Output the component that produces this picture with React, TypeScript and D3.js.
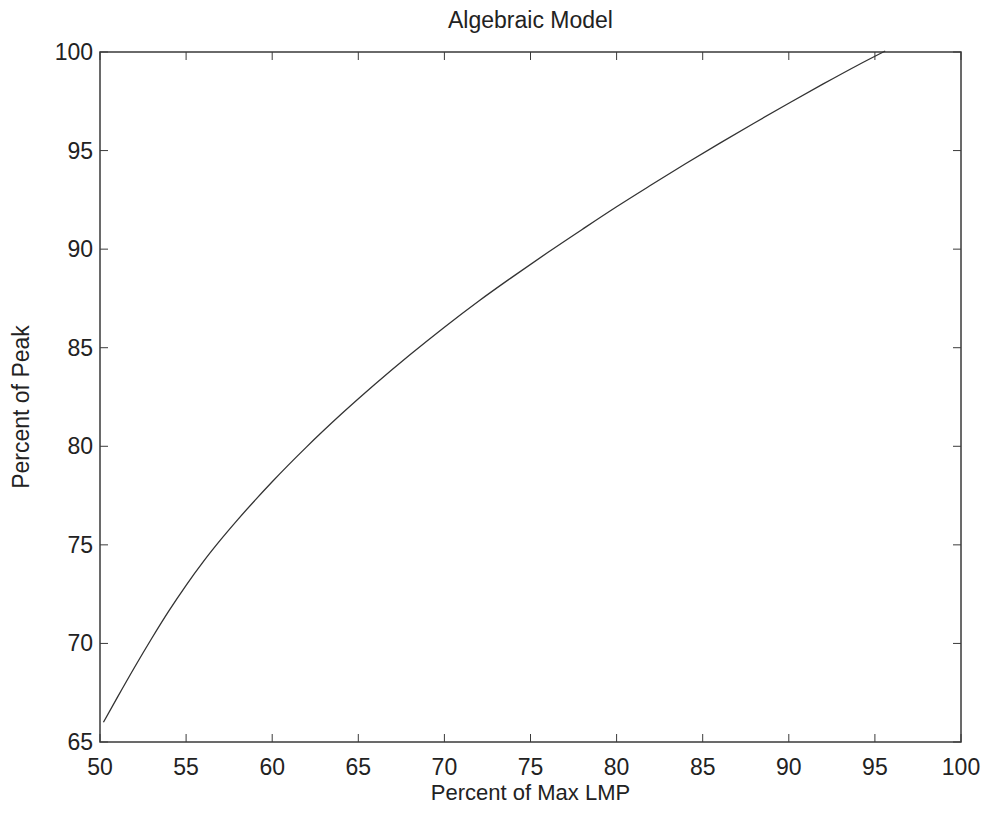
import React from "react";
import * as d3 from "d3";

const xValues = [50.2, 51, 52, 53, 54, 55, 56, 57, 58, 60, 62, 64, 66, 68, 70, 72, 74, 76, 78, 80, 82, 84, 86, 88, 90, 92, 94, 95.6];
const yValues = [66.0, 67.25, 68.78, 70.25, 71.65, 72.95, 74.15, 75.25, 76.28, 78.2, 79.97, 81.62, 83.17, 84.64, 86.04, 87.37, 88.62, 89.83, 91.0, 92.15, 93.25, 94.33, 95.38, 96.4, 97.4, 98.38, 99.33, 100.05];
const xTicks = [50, 55, 60, 65, 70, 75, 80, 85, 90, 95, 100];
const yTicks = [65, 70, 75, 80, 85, 90, 95, 100];
const title = "Algebraic Model";
const xLabel = "Percent of Max LMP";
const yLabel = "Percent of Peak";

const W = 986;
const H = 813;
const left = 100;
const right = 961;
const top = 52;
const bottom = 742;
const FONT = "'Liberation Sans', Arial, Helvetica, sans-serif";
const AX = "#3a3a3a";

export default function App() {
  const x = d3.scaleLinear().domain([50, 100]).range([left, right]);
  const y = d3.scaleLinear().domain([65, 100]).range([bottom, top]);
  const pts: [number, number][] = xValues.map((v, i) => [v, yValues[i]]);
  const line = d3
    .line<[number, number]>()
    .x((d) => x(d[0]))
    .y((d) => y(d[1]))
    .curve(d3.curveMonotoneX);
  const tl = 8;
  return (
    <svg
      width={W}
      height={H}
      style={{ position: "absolute", left: 0, top: 0, background: "#fff" }}
      fontFamily={FONT}
    >
      <rect x={0} y={0} width={W} height={H} fill="#fff" />
      <text x={(left + right) / 2} y={28} textAnchor="middle" fontSize={23} fill="#222">
        {title}
      </text>
      {xTicks.map((t) => (
        <g key={"x" + t}>
          <line x1={x(t)} x2={x(t)} y1={bottom} y2={bottom - tl} stroke={AX} strokeWidth={1} />
          <line x1={x(t)} x2={x(t)} y1={top} y2={top + tl} stroke={AX} strokeWidth={1} />
          <text x={x(t)} y={775} textAnchor="middle" fontSize={23} fill="#222">
            {t}
          </text>
        </g>
      ))}
      {yTicks.map((t) => (
        <g key={"y" + t}>
          <line x1={left} x2={left + tl} y1={y(t)} y2={y(t)} stroke={AX} strokeWidth={1} />
          <line x1={right} x2={right - tl} y1={y(t)} y2={y(t)} stroke={AX} strokeWidth={1} />
          <text x={93} y={y(t)} dy="0.35em" textAnchor="end" fontSize={23} fill="#222">
            {t}
          </text>
        </g>
      ))}
      <rect
        x={left}
        y={top}
        width={right - left}
        height={bottom - top}
        fill="none"
        stroke={AX}
        strokeWidth={1.5}
      />
      <path d={line(pts) || ""} fill="none" stroke="#333" strokeWidth={1.3} />
      <text x={(left + right) / 2} y={800} textAnchor="middle" fontSize={22} fill="#222">
        {xLabel}
      </text>
      <text
        transform={`translate(29, ${(top + bottom) / 2 + 10}) rotate(-90)`}
        textAnchor="middle"
        fontSize={23}
        fill="#222"
      >
        {yLabel}
      </text>
    </svg>
  );
}
